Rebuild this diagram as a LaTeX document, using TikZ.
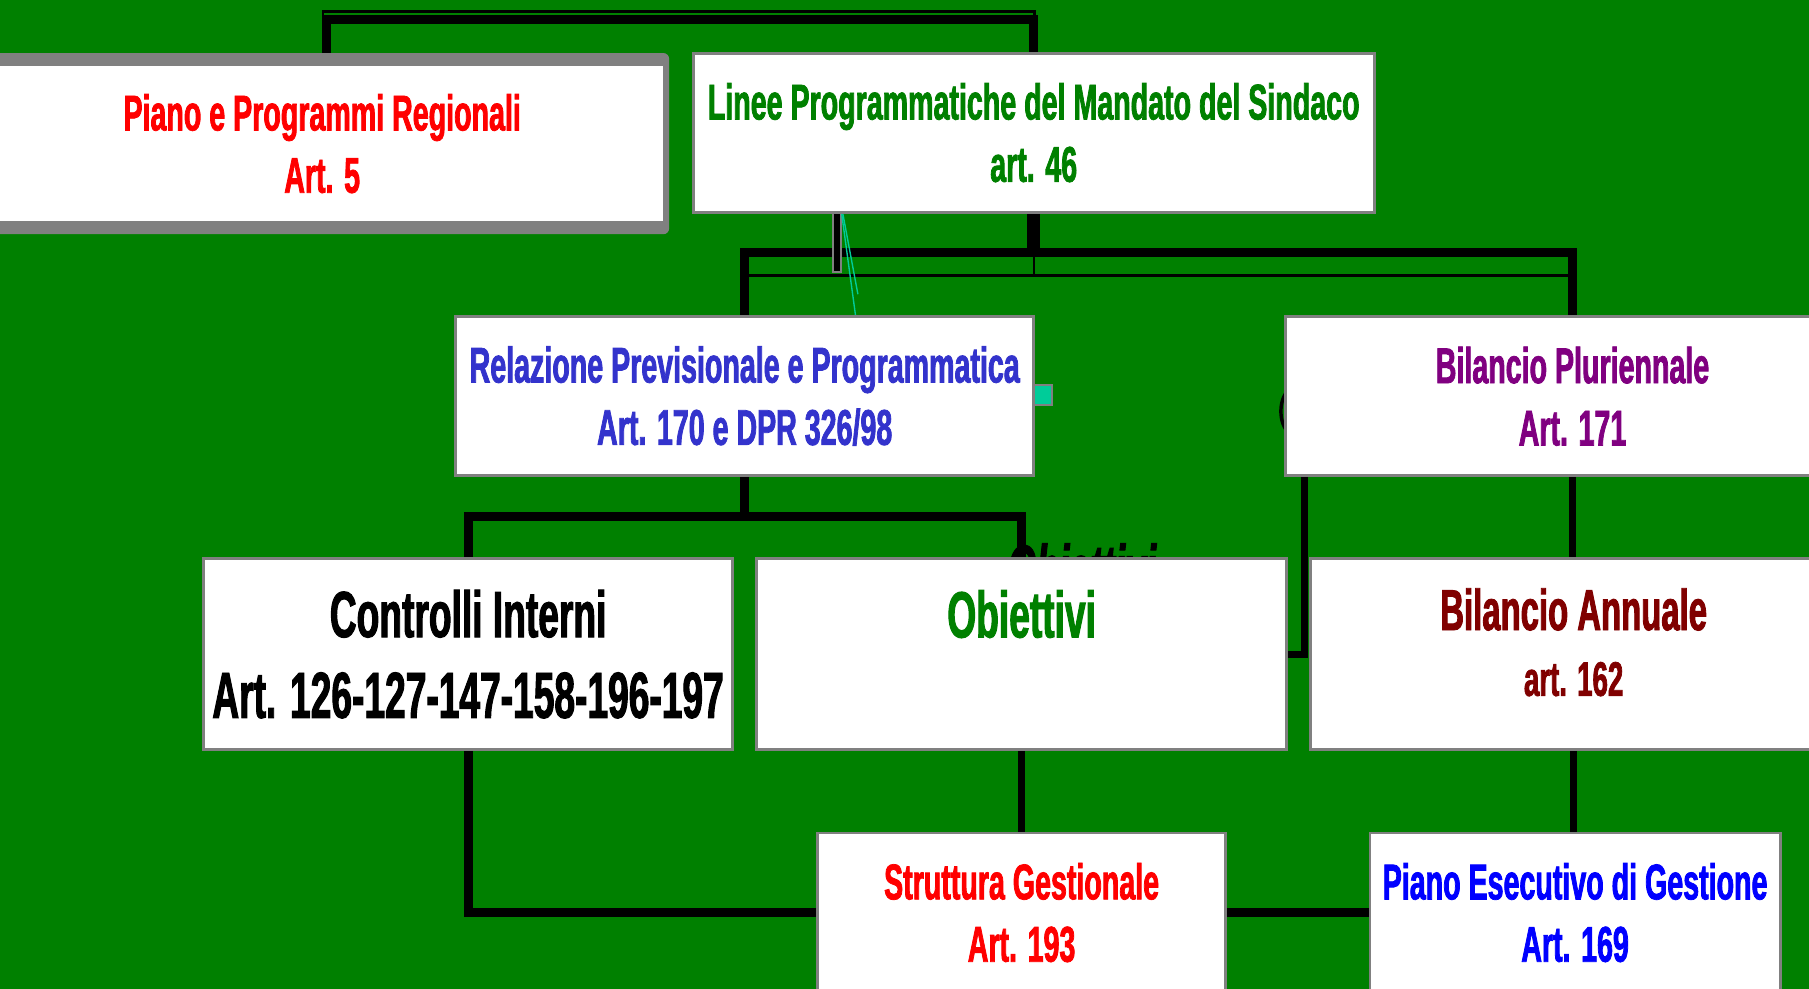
\documentclass[tikz,border=0pt]{standalone}
\usepackage{fontspec}
\setmainfont[FakeStretch=0.57, FakeBold=1.5]{Liberation Sans}
\usetikzlibrary{calc}
\definecolor{bggreen}{RGB}{0,128,0}
\definecolor{framegray}{RGB}{128,128,128}
\definecolor{relblue}{RGB}{51,51,204}
\definecolor{purp}{RGB}{128,0,128}
\definecolor{maroonc}{RGB}{128,0,0}
\definecolor{tealc}{RGB}{0,204,153}
\definecolor{pureblue}{RGB}{0,0,255}
\definecolor{purered}{RGB}{255,0,0}
\pgfdeclarelayer{back}
\pgfdeclarelayer{wires}
\pgfsetlayers{back,wires,main}
\newcommand\smalltxt{\fontsize{43.5}{54}\selectfont\bfseries}
\newcommand\bigtxt{\fontsize{56.5}{70}\selectfont\bfseries}
\newcommand\midtxt{\fontsize{50}{57}\selectfont\bfseries}
\begin{document}
\begin{tikzpicture}[x=1pt,y=-1pt,
  box/.style={draw=framegray, line width=2.5pt, fill=white, inner sep=0pt, align=center, font=\smalltxt},
  wire/.style={draw=black, line width=8pt},
  vwire/.style={draw=black, line width=6pt},
  thinwire/.style={draw=black, line width=2.5pt},
  cyanline/.style={draw=tealc, line width=1.2pt}]
\useasboundingbox (0,0) rectangle (1568,857);
\begin{pgfonlayer}{back}
\fill[bggreen] (0,0) rectangle (1568,857);
\end{pgfonlayer}

% boxes
\fill[framegray, rounded corners=5pt] (-25,46) rectangle (580,203);
\node[box, draw=none, minimum width=590.5, minimum height=134, text=purered] (piano) at (279.25,124.5) {Piano e Programmi Regionali\\Art. 5};
\node[box, minimum width=590, minimum height=138, text=bggreen] (linee) at (896,115) {Linee Programmatiche del Mandato del Sindaco\\art. 46};
\node[box, minimum width=501, minimum height=137.5, text=relblue] (relazione) at (645.5,343.25) {Relazione Previsionale e Programmatica\\Art. 170 e DPR 326/98};
\node[box, minimum width=498, minimum height=138, text=purp] (bilpl) at (1363,343.5) {Bilancio Pluriennale\\Art. 171};
\node[box, minimum width=458.5, minimum height=166, font=\bigtxt, text=black] (controlli) at (405.75,567) {Controlli Interni\\Art. 126-127-147-158-196-197};
\node[box, minimum width=459, minimum height=166, font=\bigtxt, text=bggreen] (obiettivi) at (885.5,567) {Obiettivi\\ \mbox{}};
\node[box, minimum width=456, minimum height=166, font=\midtxt, text=maroonc, text depth=21pt] (bilann) at (1364,567) {Bilancio Annuale\\{\fontsize{42}{57}\selectfont art. 162}};
\node[box, minimum width=354, minimum height=138, text=purered] (struttura) at (885.5,791) {Struttura Gestionale\\Art. 193};
\node[box, minimum width=355.5, minimum height=138, text=pureblue] (peg) at (1365.25,791) {Piano Esecutivo di Gestione\\Art. 169};
\filldraw[fill=tealc, draw=framegray, line width=1.5pt] (896,334) rectangle (912,351);

% connectors
\begin{pgfonlayer}{wires}
\coordinate (tl) at (280,10);
\coordinate (tr) at (897,10);
\draw[thinwire] (tl |- piano.north) -- (tl) -- (tr) -- (tr |- linee.north);
\draw[wire] ([xshift=4pt]piano.north) -- ++(0,-39.5) -| (linee.north);
\coordinate (j1) at (896,219);
\coordinate (j1b) at (896,239);
\draw[black, line width=11pt] (linee.south) -- (j1);
\draw[wire] (relazione.north) |- (j1) -| (bilpl.north);
\draw[thinwire] (relazione.north |- j1b) -- (bilpl.north |- j1b);
\draw[black, line width=1.5pt] (j1) -- (j1b);
\filldraw[fill=black, draw=framegray, line width=1.5pt] (722,184) rectangle (729,235.5);
\draw[cyanline] (729.5,185) -- (741.7,274.5);
\draw[cyanline] (730.5,185) -- (743.6,255);
\coordinate (j2) at (645.5,448);
\draw[wire] (relazione.south) -- (j2);
\draw[wire] (controlli.north) |- (j2) -| (obiettivi.north);
\node[font=\bigtxt\itshape, anchor=base west, inner sep=0pt, text=black] (hid) at (873,512) {Obiettivi};
\draw[vwire] ([xshift=-232pt]bilpl.south) |- (obiettivi.east);
\draw[vwire] (bilpl.south) -- (bilpl.south |- bilann.north);
\draw[black, line width=3pt] (1117,338) .. controls (1108,346) and (1108,367) .. (1117,375);
\draw[vwire] (obiettivi.south) -- (struttura.north);
\draw[vwire] (bilann.south) -- (bilann.south |- peg.north);
\draw[wire] (controlli.south) |- (peg.west);
\end{pgfonlayer}
\end{tikzpicture}
\end{document}
